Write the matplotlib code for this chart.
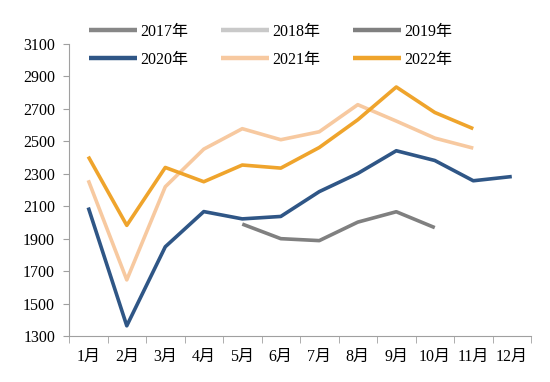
import numpy as np
import matplotlib
matplotlib.use("Agg")
import matplotlib.pyplot as plt

plt.rcParams['font.family'] = ['Liberation Serif', 'Noto Sans CJK SC']

months = ['1月', '2月', '3月', '4月', '5月', '6月', '7月', '8月', '9月', '10月', '11月', '12月']
nan = np.nan

# 2017 and 2018 only appear in the legend
v2017 = [nan] * 12
v2018 = [nan] * 12
v2019 = [nan, nan, nan, nan, 1990, 1900, 1888, 2002, 2066, 1968, nan, nan]
v2020 = [2092, 1363, 1850, 2067, 2022, 2037, 2190, 2302, 2442, 2382, 2257, 2283]
v2021 = [2260, 1646, 2220, 2452, 2578, 2510, 2559, 2726, 2625, 2520, 2458, nan]
v2022 = [2406, 1982, 2339, 2251, 2354, 2335, 2462, 2633, 2835, 2678, 2578, nan]

series = [
    ('2017年', v2017, '#878787'),
    ('2018年', v2018, '#c9c9c9'),
    ('2019年', v2019, '#808080'),
    ('2020年', v2020, '#2f5686'),
    ('2021年', v2021, '#f7c9a0'),
    ('2022年', v2022, '#efa42c'),
]

fig = plt.figure(figsize=(5.5, 3.82), dpi=100)
ax = fig.add_axes([0.1255, 0.1204, 0.84, 0.7644])

x = np.arange(len(months))
handles = []
for name, vals, col in series:
    h, = ax.plot(x, vals, color=col, lw=2.6, label=name, solid_capstyle='butt')
    handles.append(h)

ax.set_xlim(-0.5, 11.5)
ax.set_ylim(1300, 3100)
ax.set_yticks(np.arange(1300, 3101, 200))
ax.set_xticks(x)
ax.set_xticklabels(months)
ax.set_xticks(np.arange(-0.5, 12, 1), minor=True)
ax.tick_params(axis='x', which='major', length=0, pad=9, labelsize=11.5)
ax.tick_params(axis='x', which='minor', length=5, color='#a0a0a0', direction='out')
ax.tick_params(axis='y', length=4, color='#a0a0a0', direction='out', pad=6, labelsize=11.5)

for s in ['top', 'right']:
    ax.spines[s].set_visible(False)
for s in ['left', 'bottom']:
    ax.spines[s].set_color('#a0a0a0')
    ax.spines[s].set_linewidth(0.8)

# legend fills column-wise, so reorder to get rows 2017-2019 / 2020-2022
order = [0, 3, 1, 4, 2, 5]
leg = ax.legend(handles=[handles[i] for i in order], ncol=3, frameon=False, loc='upper left',
                bbox_to_anchor=(0.151, 0.955), bbox_transform=fig.transFigure,
                fontsize=11.5, handlelength=3.0, handletextpad=0.2,
                columnspacing=2.05, labelspacing=0.78, borderaxespad=0)
for lh in leg.get_lines():
    lh.set_linewidth(3.2)

fig.savefig('out.png', dpi=100)
